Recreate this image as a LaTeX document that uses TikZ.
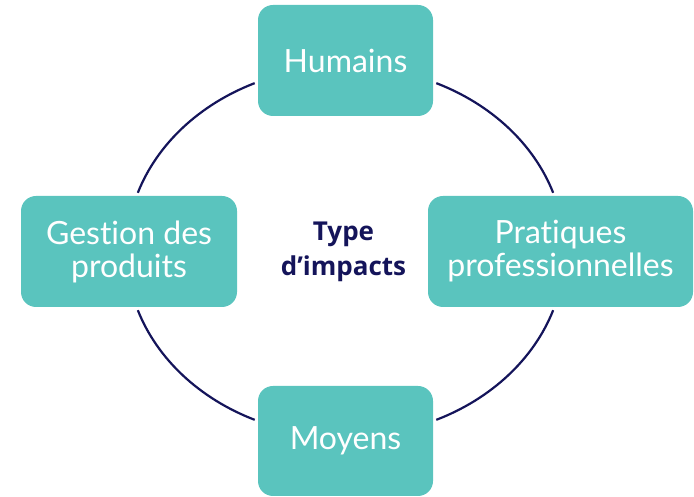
\documentclass[tikz,border=0pt]{standalone}
\usepackage{fontspec}
\setmainfont{Lato}[Ligatures=NoCommon]
\newfontfamily\ctrfont{Open Sans}
\definecolor{teal}{HTML}{5AC4BE}
\definecolor{navy}{HTML}{14145A}
\begin{document}
\begin{tikzpicture}[x=1pt,y=1pt,
  box/.style={draw=none,fill=teal,rounded corners=15pt,text=white,align=center,
    inner sep=0pt,font=\fontsize{32}{33}\selectfont},
  arcline/.style={draw=navy,line width=2.2pt},
  ctr/.style={text=navy,align=center,font=\ctrfont\bfseries\fontsize{26}{35}\selectfont}]
\useasboundingbox (0,0) rectangle (694,497);
\node[box,minimum width=175pt,minimum height=111pt] (hum) at (345.5,436.5) {Humains};
\node[box,minimum width=216pt,minimum height=111pt] (ges) at (129,245.5) {Gestion des\\produits};
\node[box,minimum width=265pt,minimum height=111pt] (pra) at (560.5,245.5) {Pratiques\\professionnelles};
\node[box,minimum width=175pt,minimum height=110pt] (moy) at (345.5,56) {Moyens};
\node[ctr] (c) at (343.5,245) {Type\\d’impacts};
\coordinate (o) at (345.5,245.5);
\draw[arcline] (o) ++(114.5:219 and 185) arc[start angle=114.5,end angle=161.5,x radius=219,y radius=185];
\draw[arcline] (o) ++(18.5:219 and 185) arc[start angle=18.5,end angle=65.5,x radius=219,y radius=185];
\draw[arcline] (o) ++(198.5:219 and 185) arc[start angle=198.5,end angle=245.5,x radius=219,y radius=185];
\draw[arcline] (o) ++(294.5:219 and 185) arc[start angle=294.5,end angle=341.5,x radius=219,y radius=185];
\end{tikzpicture}
\end{document}
